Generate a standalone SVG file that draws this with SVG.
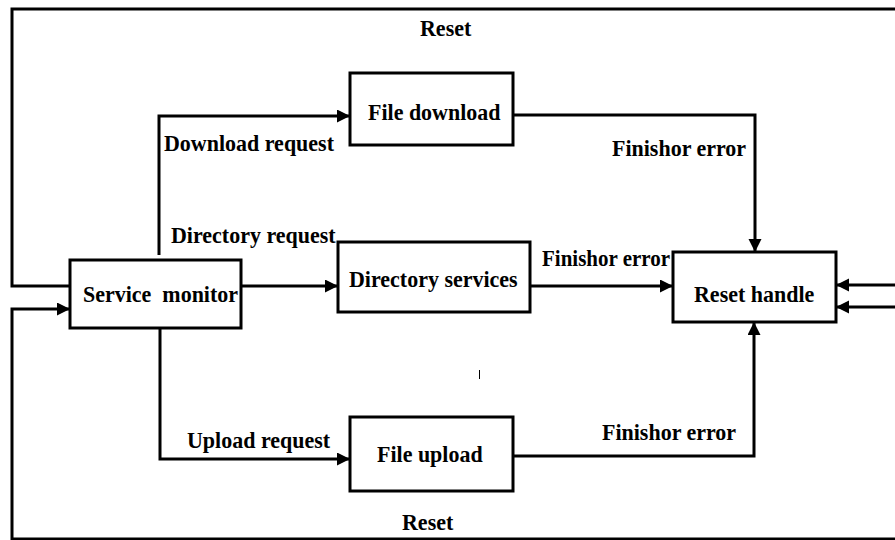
<svg xmlns="http://www.w3.org/2000/svg" width="895" height="540" viewBox="0 0 895 540">
  <style>
    .box { fill: #ffffff; stroke: #000000; stroke-width: 3; }
    .wire { fill: none; stroke: #000000; stroke-width: 3; stroke-linejoin: miter; }
    .arrow { marker-end: url(#head); }
    text { font-family: "Liberation Serif", "Times New Roman", serif; font-weight: bold; font-size: 22px; fill: #000000; }
    .small { font-size: 21px; }
  </style>
  <defs>
    <marker id="head" markerUnits="userSpaceOnUse" markerWidth="14" markerHeight="14" refX="13" refY="6.5" orient="auto">
      <path d="M0,0 L13,6.5 L0,13 Z" fill="#000000"/>
    </marker>
  </defs>
  <rect x="0" y="0" width="895" height="540" fill="#ffffff"/>

  <!-- connectors; labels are set at their baseline and stretched slightly in height -->
  <g id="connectors">
    <path class="wire arrow" d="M159,255 V116 H350"/>
    <path class="wire arrow" d="M241,286 H338"/>
    <path class="wire arrow" d="M160,328 V459 H350"/>
    <path class="wire arrow" d="M513,115 H755 V252"/>
    <path class="wire arrow" d="M530,286 H673"/>
    <path class="wire arrow" d="M513,456 H754 V322"/>
    <path class="wire arrow" d="M70,286 H12 V9 H905 V285 H836"/>
    <path class="wire arrow" d="M905,307 H836"/>
    <path class="wire arrow" d="M905,539 H12 V309 H70"/>
    <line x1="479.5" y1="370" x2="479.5" y2="379" stroke="#000000" stroke-width="1"/>
    <text transform="translate(420 36) scale(1 1.08)">Reset</text>
    <text transform="translate(164 151) scale(1 1.08)">Download request</text>
    <text transform="translate(171 243) scale(1 1.08)">Directory request</text>
    <text transform="translate(187 448) scale(1 1.08)">Upload request</text>
    <text transform="translate(612 156) scale(1 1.08)">Finishor error</text>
    <text class="small" transform="translate(542 266) scale(1 1.08)">Finishor error</text>
    <text transform="translate(602 440) scale(1 1.08)">Finishor error</text>
    <text transform="translate(402 530) scale(1 1.08)">Reset</text>
  </g>

  <g id="service-monitor">
    <rect class="box" x="70" y="260" width="171" height="68"/>
    <text transform="translate(83 302) scale(1 1.08)" xml:space="preserve">Service  monitor</text>
  </g>

  <g id="file-download">
    <rect class="box" x="350" y="73" width="163" height="72"/>
    <text transform="translate(368 120) scale(1 1.08)">File download</text>
  </g>

  <g id="directory-services">
    <rect class="box" x="338" y="242" width="192" height="70"/>
    <text transform="translate(349 287) scale(1 1.08)">Directory services</text>
  </g>

  <g id="file-upload">
    <rect class="box" x="350" y="417" width="163" height="74"/>
    <text transform="translate(377 462) scale(1 1.08)">File upload</text>
  </g>

  <g id="reset-handle">
    <rect class="box" x="673" y="252" width="163" height="70"/>
    <text transform="translate(694 302) scale(1 1.08)">Reset handle</text>
  </g>
</svg>
